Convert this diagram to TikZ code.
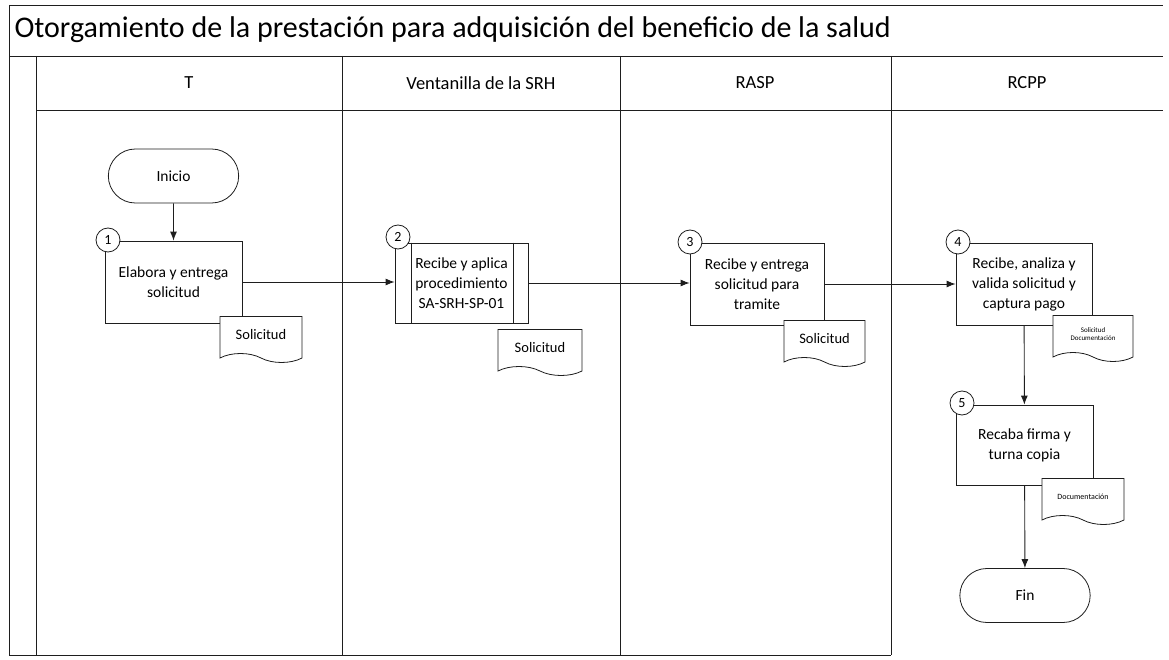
\documentclass[tikz,border=0pt]{standalone}
\usepackage{fontspec}
\setmainfont{Carlito}
\usetikzlibrary{arrows.meta,positioning,shapes.misc,shapes.symbols}
\definecolor{Ink}{HTML}{1E1E1E}
\tikzset{
  lane/.style={draw=Ink, line width=0.8pt},
  terminal/.style={draw=Ink, rounded rectangle, line width=0.8pt, fill=white, minimum width=137pt, minimum height=54pt, font=\fontsize{15.5}{18}\selectfont},
  flowbox/.style={draw=Ink, line width=0.8pt, fill=white, align=center, minimum width=136pt, minimum height=82pt, font=\fontsize{15.5}{20}\selectfont},
  docshape/.style={draw=Ink, tape, tape bend top=none, tape bend bottom=out and in, tape bend height=9pt, line width=0.8pt, fill=white, align=center, minimum width=82pt, minimum height=46pt, inner sep=2pt, font=\fontsize{14.5}{17}\selectfont},
  stepnum/.style={draw=Ink, circle, line width=0.8pt, fill=white, minimum size=24pt, inner sep=0pt, font=\fontsize{14}{16}\selectfont},
  lanehead/.style={font=\fontsize{18.5}{22}\selectfont},
  arrow/.style={-{Latex[length=9pt, width=7pt]}, line width=0.9pt, draw=Ink}
}
\begin{document}
\begin{tikzpicture}[x=1pt, y=-1pt]
  \useasboundingbox (0,0) rectangle (1169,660);
  % frame and swimlanes
  \draw[lane] (9,5) -- (1163,5);
  \draw[lane] (9,56) -- (1163,56);
  \draw[lane] (36,110) -- (1163,110);
  \draw[lane] (9,5) -- (9,655) -- (891,655);
  \draw[lane] (36,56) -- (36,655);
  \foreach \x in {342,620,891} \draw[lane] (\x,56) -- (\x,655);
  \node[anchor=west, font=\fontsize{30}{34}\selectfont] (title) at (11,30) {Otorgamiento de la prestación para adquisición del beneficio de la salud};
  \node[lanehead] (laneT) at (189,83) {T};
  \node[lanehead] (laneSRH) at (481,83) {Ventanilla de la SRH};
  \node[lanehead] (laneRASP) at (755,83) {RASP};
  \node[lanehead] (laneRCPP) at (1027,83) {RCPP};
  % steps
  \node[terminal] (inicio) at (173.5,176) {Inicio};
  \node[flowbox, minimum width=137pt] (elabora) at (173.5,282) {Elabora y entrega\\solicitud};
  \node[flowbox, minimum width=133pt, minimum height=80pt] (aplica) at (461.5,283) {Recibe y aplica\\procedimiento\\SA-SRH-SP-01};
  \draw[lane] ([xshift=17pt]aplica.north west) -- ([xshift=17pt]aplica.south west);
  \draw[lane] ([xshift=-15pt]aplica.north east) -- ([xshift=-15pt]aplica.south east);
  \node[flowbox, minimum width=134pt] (entrega) at (757,284) {Recibe y entrega\\solicitud para\\tramite};
  \node[flowbox] (valida) at (1024,284) {Recibe, analiza y\\valida solicitud y\\captura pago};
  \node[flowbox, minimum width=137pt, minimum height=80pt] (recaba) at (1024.5,445) {Recaba firma y\\turna copia};
  \node[terminal] (fin) at (1025,595.5) {Fin};
  % connectors
  \draw[arrow] (inicio) -- (elabora);
  \draw[arrow] (elabora.east) -- (elabora.east -| aplica.west);
  \draw[arrow] (aplica.east) -- (aplica.east -| entrega.west);
  \draw[arrow] (entrega.east) -- (entrega.east -| valida.west);
  \draw[arrow] (valida) -- (recaba);
  \draw[arrow] (recaba) -- (fin);
  % documents
  \node[docshape] (doc1) at (261,335) {Solicitud};
  \node[docshape, minimum width=84pt] (doc2) at (540,348) {Solicitud};
  \node[docshape, minimum width=81pt] (doc3) at (824.5,339) {Solicitud};
  \node[docshape, minimum width=80pt, font=\fontsize{7}{8}\selectfont] (doc4) at (1093,334) {Solicitud\\Documentación};
  \node[docshape, font=\fontsize{8}{9}\selectfont] (doc5) at (1083,497) {Documentación};
  % step numbers
  \node[stepnum] (num1) at (108,240) {1};
  \node[stepnum] (num2) at (398,237) {2};
  \node[stepnum] (num3) at (690,242) {3};
  \node[stepnum] (num4) at (958,242) {4};
  \node[stepnum] (num5) at (962,403) {5};
\end{tikzpicture}
\end{document}
